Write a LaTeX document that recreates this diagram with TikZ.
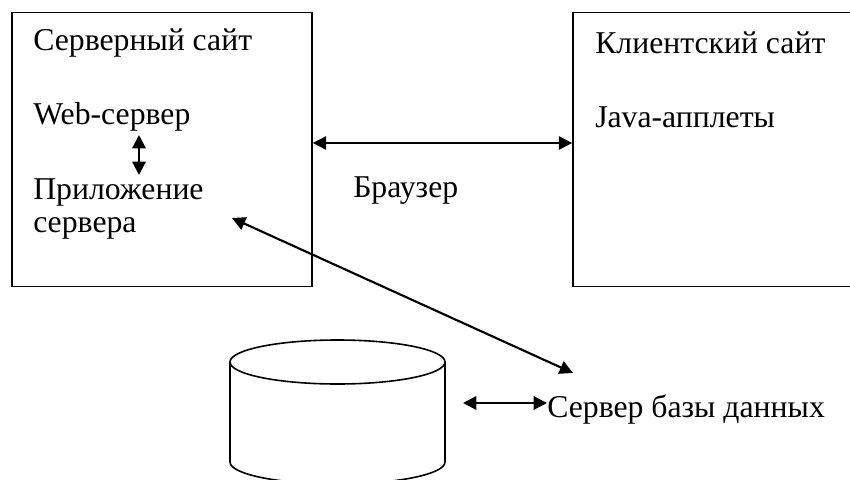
\documentclass[tikz,border=0pt]{standalone}
\usepackage{fontspec}
\setmainfont{Liberation Serif}
\usetikzlibrary{positioning,arrows.meta}
\tikzset{
  sitebox/.style={draw, line width=1.3pt, minimum width=225pt, minimum height=205.5pt, inner sep=0pt},
  dbline/.style={line width=1.2pt},
  txt/.style={anchor=base west, inner sep=0pt, font=\fontsize{23.8pt}{24.75pt}\selectfont, align=left},
  linkarrow/.style={{Triangle[length=10pt,width=10pt]}-{Triangle[length=10pt,width=10pt]}, line width=1.6pt}
}
\begin{document}
\begin{tikzpicture}[x=0.75pt, y=-0.75pt]
  \clip (0,0) rectangle (850,479);
  \fill[white] (0,0) rectangle (850,479);
  \node[sitebox] (server) at (162,149.5) {};
  \node[sitebox, minimum width=210pt] (client) at (713,149.5) {};
  \node[txt] (srvtitle) at (33,50) {Серверный сайт};
  \node[txt] (web) at (33,124) {Web-сервер};
  \node[txt] (app) at (33,232) {Приложение\\сервера};
  \node[txt] (clititle) at (595,53) {Клиентский сайт};
  \node[txt] (java) at (595,127) {Java-апплеты};
  \node[txt] (browser) at (353,197) {Браузер};
  \node[txt] (dbsrv) at (547,417) {Сервер базы данных};
  \draw[dbline] (337.5,362) ellipse [x radius=80.625pt, y radius=16.5pt];
  \draw[dbline] (230,362) -- (230,462)
    .. controls (230,474.15) and (278.1,484) .. (337.5,484)
    .. controls (396.9,484) and (445,474.15) .. (445,462) -- (445,362);
  \coordinate (webtip) at (139,135);
  \coordinate (apptip) at (139,175);
  \coordinate (brw) at (443,143);
  \coordinate (appdiag) at (232,218);
  \coordinate (dbdiag) at (573,373);
  \coordinate (dbleft) at (463,403);
  \draw[linkarrow] (webtip) -- (apptip);
  \draw[linkarrow] (server.east |- brw) -- (client.west |- brw);
  \draw[linkarrow] (appdiag) -- (dbdiag);
  \draw[linkarrow] (dbleft) -- (dbsrv.west |- dbleft);
\end{tikzpicture}
\end{document}
